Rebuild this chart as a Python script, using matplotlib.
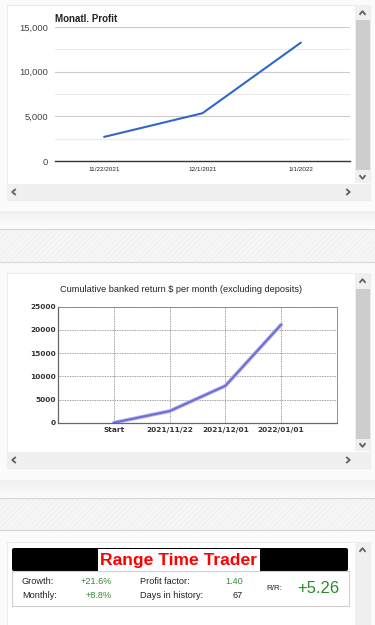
import matplotlib
matplotlib.use("Agg")
import matplotlib.pyplot as plt
from matplotlib.patches import Rectangle, FancyBboxPatch
from matplotlib.ticker import FuncFormatter

# ---------------- data ----------------
monthly_dates = ["11/22/2021", "12/1/2021", "1/1/2022"]
monthly_profit = [2700, 5350, 13250]

cum_labels = ["Start", "2021/11/22", "2021/12/01", "2022/01/01"]
cum_return = [0, 2500, 7950, 21150]

stats_left_labels = ["Growth:", "Monthly:"]
stats_left_values = ["+21.6%", "+8.8%"]
stats_mid_labels = ["Profit factor:", "Days in history:"]
stats_mid_values = ["1.40", "67"]
rr_value = "+5.26"

W, H = 375, 625
fig = plt.figure(figsize=(W / 100, H / 100), dpi=100, facecolor="#fbfbfb")

bg = fig.add_axes([0, 0, 1, 1])
bg.set_xlim(0, W)
bg.set_ylim(H, 0)
bg.axis("off")
bg.set_facecolor("none")

SANS = ["Liberation Sans", "DejaVu Sans"]


def rect(x0, y0, x1, y1, fc, ec="none", lw=0, z=1, **kw):
    bg.add_patch(Rectangle((x0, y0), x1 - x0, y1 - y0, facecolor=fc,
                           edgecolor=ec, linewidth=lw, zorder=z, **kw))


def chevron(x, y, kind, s=3.0, c="#606060"):
    if kind == "up":
        xs, ys = [x - s, x, x + s], [y + s * 0.6, y - s * 0.6, y + s * 0.6]
    elif kind == "down":
        xs, ys = [x - s, x, x + s], [y - s * 0.6, y + s * 0.6, y - s * 0.6]
    elif kind == "left":
        xs, ys = [x + s * 0.6, x - s * 0.6, x + s * 0.6], [y - s, y, y + s]
    else:
        xs, ys = [x - s * 0.6, x + s * 0.6, x - s * 0.6], [y - s, y, y + s]
    bg.plot(xs, ys, color=c, lw=1.3, zorder=5, solid_capstyle="butt")


def panel(y0, y1, thumb=None, hbar=True):
    rect(7, y0, 370, y1, "white", ec="#ececec", lw=0.8, z=1)
    rect(355, y0, 370, y1 - (17 if hbar else 0), "#f0f0f0", z=2)
    if thumb:
        rect(356, thumb[0], 369.5, thumb[1], "#cdcdcd", z=3)
    chevron(362.5, y0 + 8, "up")
    if hbar:
        chevron(362.5, y1 - 23, "down")
        rect(7, y1 - 16, 370, y1, "#f0f0f0", z=2)
        chevron(14, y1 - 8, "left")
        chevron(348, y1 - 8, "right")


def separator(y0, y1, y2):
    n = 12
    for i in range(n):
        a = y0 + (y1 - y0) * i / n
        b = y0 + (y1 - y0) * (i + 1) / n
        g = 0.94 + 0.05 * i / (n - 1)
        rect(0, a, W, b, (g, g, g), z=1)
    bg.plot([0, W], [y1, y1], color="#d8d8d8", lw=0.9, zorder=2)
    rect(0, y1, W, y2, "#f6f6f6", ec="#ebebeb", lw=0, z=1, hatch="//////")
    bg.plot([0, W], [y2, y2], color="#d8d8d8", lw=0.9, zorder=2)


plt.rcParams["hatch.linewidth"] = 0.4
plt.rcParams["hatch.color"] = "#e9e9e9"

# ---------------- panels / page chrome ----------------
panel(5, 200, thumb=(20, 170))
separator(211, 229, 262)
panel(273, 468, thumb=(289, 439))
separator(480, 498, 530)
rect(7, 542, 370, 630, "white", ec="#ececec", lw=0.8, z=1)
rect(355, 542, 370, 630, "#f0f0f0", z=2)
chevron(362.5, 550, "up")

# ---------------- chart 1: Monatl. Profit ----------------
ax1 = fig.add_axes([55 / W, 1 - 161 / H, 295 / W, 134 / H])
ax1.set_facecolor("none")
x1 = list(range(len(monthly_dates)))
ax1.plot(x1, monthly_profit, color="#3366cc", lw=1.5, zorder=3,
         solid_capstyle="round")
ax1.set_xlim(-0.5, len(monthly_dates) - 0.5)
ax1.set_ylim(0, 15000)
ax1.set_yticks([0, 5000, 10000, 15000])
ax1.set_yticks([2500, 7500, 12500], minor=True)
ax1.yaxis.set_major_formatter(FuncFormatter(lambda v, p: f"{int(v):,}"))
ax1.set_xticks(x1)
ax1.set_xticklabels(monthly_dates, fontsize=4.6, color="#222222",
                    family=SANS)
for lab in ax1.get_yticklabels():
    lab.set_fontsize(6.8)
    lab.set_color("#444444")
    lab.set_family(SANS)
ax1.tick_params(axis="both", which="both", length=0)
ax1.tick_params(axis="y", pad=5)
ax1.tick_params(axis="x", pad=4)
ax1.grid(axis="y", which="major", color="#cccccc", lw=0.8)
ax1.grid(axis="y", which="minor", color="#ebebeb", lw=0.8)
for s in ["top", "right", "left"]:
    ax1.spines[s].set_visible(False)
ax1.spines["bottom"].set_color("#333333")
ax1.spines["bottom"].set_linewidth(1.0)
ax1.set_axisbelow(True)
fig.text(55 / W, 1 - 22 / H, "Monatl. Profit", fontsize=7, fontweight="bold",
         color="#222222", family=SANS, ha="left", va="baseline")

# ---------------- chart 2: Cumulative banked return ----------------
ax2 = fig.add_axes([58 / W, 1 - 422.7 / H, 279 / W, 116 / H])
ax2.set_facecolor("none")
x2 = list(range(1, len(cum_labels) + 1))
ax2.plot(x2, cum_return, color="#b8b8ef", lw=2.8, zorder=3,
         solid_capstyle="round")
ax2.plot(x2, cum_return, color="#6e6ed6", lw=1.5, zorder=4,
         solid_capstyle="round")
ax2.set_xlim(0, len(cum_labels) + 1)
ax2.set_ylim(0, 25000)
ax2.set_yticks(range(0, 25001, 5000))
ax2.set_xticks(x2)
ax2.set_xticklabels(cum_labels)
for lab in ax2.get_xticklabels() + ax2.get_yticklabels():
    lab.set_fontsize(5.3)
    lab.set_fontweight("bold")
    lab.set_color("#333333")
    lab.set_family("DejaVu Sans")
ax2.tick_params(axis="both", length=0)
ax2.tick_params(axis="y", pad=1.5)
ax2.tick_params(axis="x", pad=3)
ax2.grid(True, color="#808080", lw=0.6, linestyle=(0, (1, 1)))
for s in ["top", "right"]:
    ax2.spines[s].set_color("#808080")
    ax2.spines[s].set_linewidth(0.6)
    ax2.spines[s].set_linestyle((0, (1, 1)))
for s in ["left", "bottom"]:
    ax2.spines[s].set_color("#666666")
    ax2.spines[s].set_linewidth(0.9)
ax2.set_axisbelow(True)
fig.text(181 / W, 1 - 290 / H,
         "Cumulative banked return $ per month (excluding deposits)",
         fontsize=6.6, color="#222222", family=SANS, ha="center",
         va="center")

# ---------------- panel 3: stats widget ----------------
bg.add_patch(FancyBboxPatch((12, 548), 336, 23,
                            boxstyle="round,pad=0,rounding_size=2",
                            facecolor="black", edgecolor="none", zorder=3))
rect(98, 549, 260, 570.5, "white", z=4)
bg.text(179, 560, "Range Time Trader", fontsize=12.6, fontweight="bold",
        color="#ff0000", family=SANS, ha="center", va="center", zorder=5)
rect(13, 572, 350, 607, "#e6e6e6", z=2)
rect(12, 571, 349, 606, "white", ec="#cfcfcf", lw=0.8, z=3)

GREEN = "#3a8a3a"
TXT = dict(fontsize=6.6, family=SANS, va="center", zorder=6)
rows_y = [581, 596]
for i, y in enumerate(rows_y):
    bg.text(22, y, stats_left_labels[i], color="#222222", ha="left", **TXT)
    bg.text(112, y, stats_left_values[i], color=GREEN, ha="right", **TXT)
    bg.text(140, y, stats_mid_labels[i], color="#222222", ha="left", **TXT)
    bg.text(243, y, stats_mid_values[i],
            color=GREEN if i == 0 else "#222222", ha="right", **TXT)
bg.text(266, 589, "R/R:", fontsize=5.8, family=SANS, color="#222222",
        ha="left", va="center", zorder=6)
bg.text(297, 588.5, rr_value, fontsize=12, family=SANS, color="#2a8a2a",
        ha="left", va="center", zorder=6)

fig.savefig("out.png", dpi=100, facecolor=fig.get_facecolor())
